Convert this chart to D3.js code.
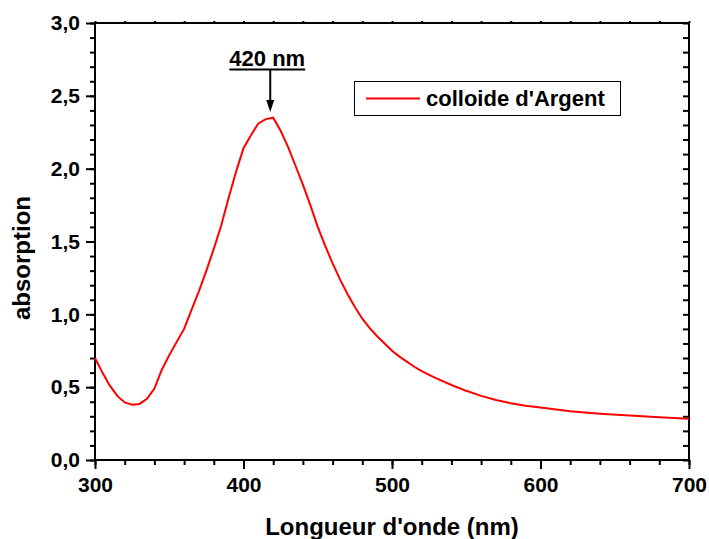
<!DOCTYPE html>
<html lang="fr">
<head>
  <meta charset="UTF-8">
  <title>Absorption colloide d'Argent</title>
  <style>
    body { margin: 0; background: #fff; }
    text { font-family: Arial, "Liberation Sans", sans-serif; font-weight: bold; fill: #000; }
  </style>
</head>
<body>
  <script src="https://d3js.org/d3.v7.min.js"></script>
  <script>
    // spectre UV-visible
    const wavelength = [300, 305, 310, 315, 320, 325, 330, 335, 340, 345, 350, 355, 360, 365, 370, 375, 380, 385, 390, 395,
      400, 405, 410, 415, 420, 425, 430, 435, 440, 445, 450, 455, 460, 465, 470, 475, 480, 485, 490, 495,
      500, 505, 510, 515, 520, 525, 530, 540, 550, 560, 570, 580, 590, 600, 620, 640, 660, 680, 700];
    const absorbance = [0.70, 0.60, 0.51, 0.44, 0.395, 0.38, 0.385, 0.42, 0.49, 0.62, 0.72, 0.81, 0.90, 1.03, 1.16, 1.30, 1.45, 1.61, 1.80, 1.98,
      2.14, 2.23, 2.31, 2.34, 2.35, 2.26, 2.15, 2.02, 1.89, 1.75, 1.60, 1.47, 1.35, 1.24, 1.14, 1.05, 0.97, 0.905, 0.85, 0.80,
      0.75, 0.71, 0.675, 0.64, 0.61, 0.585, 0.56, 0.515, 0.475, 0.44, 0.412, 0.39, 0.372, 0.36, 0.335, 0.318, 0.305, 0.293, 0.283];
    const xTicks = [300, 400, 500, 600, 700];
    const yTicks = [0, 0.5, 1.0, 1.5, 2.0, 2.5, 3.0];
    const seriesName = "colloide d'Argent";
    const peakLabel = "420 nm";
    const peakArrowAt = 418;

    const width = 709, height = 539;
    const margin = { top: 23, right: 20, bottom: 79, left: 95 };
    const iw = width - margin.left - margin.right;
    const ih = height - margin.top - margin.bottom;

    const svg = d3.select('body').append('svg')
      .attr('width', width).attr('height', height);
    const g = svg.append('g').attr('transform', `translate(${margin.left},${margin.top})`);

    const x = d3.scaleLinear().domain([300, 700]).range([0, iw]);
    const y = d3.scaleLinear().domain([0, 3]).range([ih, 0]);
    const fmt = d => d3.format('.1f')(d).replace('.', ',');

    const minorX = d3.range(300, 701, 20);
    const minorY = d3.range(0, 3.001, 0.1);

    // ticks mineurs
    g.append('g').attr('transform', `translate(0,${ih})`)
      .call(d3.axisBottom(x).tickValues(minorX).tickSize(5).tickFormat(''))
      .call(a => a.select('.domain').remove());
    g.append('g')
      .call(d3.axisLeft(y).tickValues(minorY).tickSize(5).tickFormat(''))
      .call(a => a.select('.domain').remove());
    g.append('g').attr('transform', `translate(${iw},0)`)
      .call(d3.axisLeft(y).tickValues(minorY).tickSize(6).tickFormat(''))
      .call(a => a.select('.domain').remove());
    g.append('g')
      .call(d3.axisTop(x).tickValues(minorX).tickSize(2).tickFormat(''))
      .call(a => a.select('.domain').remove());

    // ticks majeurs
    const xAxis = g.append('g').attr('transform', `translate(0,${ih})`)
      .call(d3.axisBottom(x).tickValues(xTicks).tickSize(9).tickPadding(8).tickFormat(d3.format('d')));
    const yAxis = g.append('g')
      .call(d3.axisLeft(y).tickValues(yTicks).tickSize(9).tickPadding(6).tickFormat(fmt));
    [xAxis, yAxis].forEach(a => {
      a.select('.domain').remove();
      a.selectAll('text').style('font-size', '21px').attr('fill', '#000');
    });
    g.selectAll('.tick line').attr('stroke', '#000').attr('stroke-width', 2);

    // cadre
    g.append('rect').attr('width', iw).attr('height', ih)
      .attr('fill', 'none').attr('stroke', '#000').attr('stroke-width', 2);

    // courbe
    const pts = wavelength.map((w, i) => [w, absorbance[i]]);
    g.append('path').datum(pts)
      .attr('fill', 'none').attr('stroke', '#ff0000').attr('stroke-width', 2)
      .attr('d', d3.line().x(d => x(d[0])).y(d => y(d[1])));

    // annotation du pic
    const ax = x(peakArrowAt);
    const lbl = g.append('text').attr('x', ax - 3).attr('y', 43)
      .attr('text-anchor', 'middle').style('font-size', '22px').text(peakLabel);
    const bw = lbl.node().getBBox();
    g.append('line').attr('x1', bw.x).attr('x2', bw.x + bw.width)
      .attr('y1', 46.5).attr('y2', 46.5).attr('stroke', '#000').attr('stroke-width', 2);
    g.append('line').attr('x1', ax).attr('x2', ax).attr('y1', 46).attr('y2', 78)
      .attr('stroke', '#000').attr('stroke-width', 2);
    g.append('path')
      .attr('d', `M${ax - 4},${77} L${ax + 4},${77} L${ax},${89} Z`).attr('fill', '#000');

    // légende
    svg.append('rect').attr('x', 354.5).attr('y', 81.5).attr('width', 266).attr('height', 34)
      .attr('fill', '#fff').attr('stroke', '#000').attr('stroke-width', 1);
    svg.append('line').attr('x1', 366).attr('x2', 420).attr('y1', 98.5).attr('y2', 98.5)
      .attr('stroke', '#ff0000').attr('stroke-width', 2);
    svg.append('text').attr('x', 426).attr('y', 106).style('font-size', '22px').text(seriesName);

    // titres des axes
    svg.append('text').attr('x', 392).attr('y', 535).attr('text-anchor', 'middle')
      .style('font-size', '24px').text("Longueur d'onde (nm)");
    svg.append('text').attr('transform', 'translate(30,258) rotate(-90)')
      .attr('text-anchor', 'middle').style('font-size', '24px').text('absorption');
  </script>
</body>
</html>
